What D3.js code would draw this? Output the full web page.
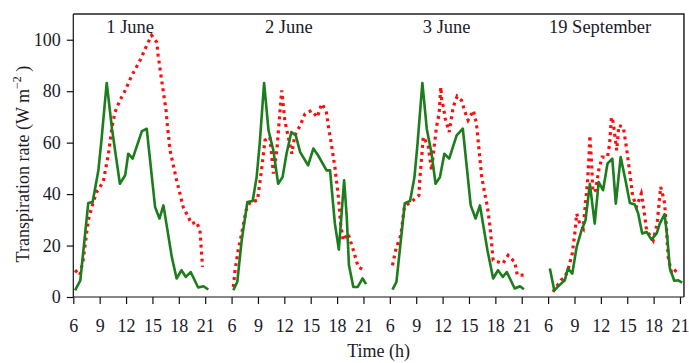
<!DOCTYPE html>
<html>
<head>
<meta charset="utf-8">
<script src="https://cdn.jsdelivr.net/npm/d3@7"></script>
<style>
  body { margin: 0; background: #fff; }
  svg { display: block; font-family: "Liberation Serif", "DejaVu Serif", serif; }
  .axis text { font-size: 18px; fill: #1a1a2a; font-family: "Liberation Serif", serif; }
  .axis path, .axis line { stroke: #111; stroke-width: 1.2; }
</style>
</head>
<body>
<svg id="chart" width="689" height="363"></svg>
<script>

// panels (days)
const days = ['1 June', '2 June', '3 June', '19 September'];
const xTickHours = [6, 9, 12, 15, 18, 21];
const yTicks = [0, 20, 40, 60, 80, 100];

// green solid line: [hour, transpiration rate]
const observed1 = [[6.2,2.6],[6.8,6.5],[7.7,36.5],[8.2,36.9],[8.85,49.2],[9.2,60.9],[9.8,83.2],[10.4,65.4],[10.75,57],
  [11.3,44],[11.9,47.3],[12.25,55.7],[12.75,53.8],[13.8,64.5],[14.35,65.4],[15.3,35],[15.8,30.5],[16.25,35.6],
  [17.2,15.6],[17.75,7.2],[18.3,10.4],[18.8,7.8],[19.35,9.7],[20.2,3.7],[20.8,4.2],[21.35,2.9]];
const observed2 = [[6.2,2.6],[6.65,5.9],[7.15,22],[7.8,36.9],[8.4,37.3],[8.85,46.6],[9.2,59.6],[9.7,83.2],[10.2,64.8],
  [10.75,57],[11.3,44],[11.8,46.6],[12.25,55.7],[12.8,64.1],[13.3,62.8],[13.8,56.3],[14.7,51.2],[15.3,57.7],
  [15.85,55],[16.8,49.2],[17.2,49.2],[17.75,28.5],[18.2,18.4],[18.8,45.4],[19.1,31.1],[19.35,12.3],[19.85,3.9],
  [20.35,3.9],[20.9,7.2],[21.3,5]];
const observed3 = [[6.3,2.9],[6.75,5.9],[7.25,22],[7.7,36.5],[8.3,37.3],[8.8,46.6],[9.15,59.6],[9.7,83.2],[10.2,65.4],
  [10.75,55.7],[11.2,44],[11.7,46.6],[12.2,55.7],[12.75,53.8],[13.6,62.8],[14.3,65.4],[15.2,35.6],[15.75,30.5],
  [16.25,35.6],[17.1,18.2],[17.75,7.2],[18.3,10.4],[18.85,7.8],[19.3,9.7],[20.2,3.3],[20.8,4.2],[21.25,3]];
const observed4 = [[6.2,11.1],[6.7,2.6],[7.3,4.6],[7.9,6.5],[8.25,11.1],[8.75,9.1],[9.25,19.5],[9.8,25.9],[10.25,29.8],
  [10.75,44],[11.3,28.5],[11.75,44.7],[12.25,41.5],[12.75,51.8],[13.3,53.8],[13.7,36.3],[14.25,54.4],[14.8,45.4],
  [15.3,36.5],[15.85,36],[16.25,32.4],[16.7,24.7],[17.2,25.3],[17.75,22.3],[18.35,24.7],[18.7,28.5],[19.25,32.2],
  [19.55,23.3],[19.85,11.1],[20.35,6.3],[20.8,6.5],[21.25,5.6]];

// red dotted line: [hour, transpiration rate]
const simulated1 = [[6.2,10.4],[6.75,8.5],[7.15,15],[7.7,29.8],[8.1,35],[8.65,40.8],[9.4,44.7],[10,55.7],[10.4,66],
  [10.75,71.9],[11.3,76.4],[11.9,80.3],[12.65,86.1],[13.6,92],[14.35,97.8],[14.9,101.7],[15.5,99],[15.65,93.9],
  [16.05,84.2],[16.55,72.5],[16.7,66.7],[17,57],[17.75,45.4],[18.5,35],[19.45,28.5],[20,29.2],[20.4,26],[20.7,11.7]];
const simulated2 = [[6.2,3.9],[6.4,10.4],[6.75,18.2],[7.15,24.7],[7.65,33.7],[8.1,36.9],[8.95,37.6],[9.4,49.2],
  [9.8,60.9],[10.35,62.2],[10.55,55.7],[10.75,48],[11.15,57],[11.45,69.9],[11.7,80.3],[12.05,68.7],[12.45,62.2],
  [12.85,55.7],[13.2,62.8],[13.8,66.7],[14.35,71.2],[15.1,72.5],[15.75,69.9],[16.25,75.1],[16.75,72.5],[17,66.7],
  [17.4,58.3],[17.75,50.5],[18.15,38.9],[18.4,28.5],[18.7,22],[19.25,24.7],[19.85,18.2],[20.4,11.7],[21.05,10.4]];
const simulated3 = [[6.3,12.3],[6.7,18.8],[7.25,24],[7.65,35],[8.3,36.9],[8.65,37.6],[9.3,39.5],[9.4,45.4],[9.65,55.7],
  [9.8,62.2],[10.35,59],[10.75,49.2],[10.95,55.7],[11.3,66],[11.6,71.2],[11.8,81.6],[11.9,76.4],[12.1,73.8],
  [12.3,69.3],[12.75,64.1],[13.2,73.8],[13.65,78],[14.15,76.4],[14.55,71.9],[14.9,68.7],[15.5,72.5],[15.85,67.4],
  [16.15,57],[16.45,46.6],[16.8,40.2],[17.1,35],[17.4,27.2],[17.75,14.3],[18.35,13.6],[18.85,13],[19.45,16.2],
  [20.2,13.6],[20.5,8.5],[21.25,8.5]];
const simulated4 = [[6.55,2],[7.45,6.5],[7.9,7.8],[8.25,10.4],[8.75,16.9],[9.1,26.6],[9.25,32.4],[9.6,28.5],[10,26.6],
  [10.15,33],[10.45,43.4],[10.65,54.4],[10.75,62.8],[10.95,51.8],[11.1,40.8],[11.4,41.5],[11.75,49.2],[12.15,54.4],
  [12.75,54.4],[13,59.6],[13.2,69.9],[13.4,68],[13.8,57],[14.05,66.7],[14.55,66],[14.9,58.3],[15.3,48],[15.6,39.5],
  [16.05,35],[16.6,40.2],[16.8,36.3],[17.2,25.9],[17.95,22],[18.4,28.5],[18.8,42.8],[19.1,38.9],[19.25,36.3],
  [19.45,27.2],[19.65,15.6],[20.05,9.1],[20.8,11.1]];

const observed = [observed1, observed2, observed3, observed4];
const simulated = [simulated1, simulated2, simulated3, simulated4];

function chart(svg) {

  // layout
  const left = 73.3, right = 680, top = 14, bottom = 297;
  const hoursPerPanel = 18;   // 6..21 plus one tick gap to the next day

  // continuous position: panel index * 18 + hours after 6 h
  const pos = (d, h) => d * hoursPerPanel + (h - 6);

  const x = d3.scaleLinear()
    .domain([0, pos(3, 21)])
    .range([left, right]);

  const y = d3.scaleLinear()
    .domain([0, 110])
    .range([bottom, top]);

  const xRight = x(pos(3, 21.45));

  // frame (top and right sides)
  svg.append('path')
    .attr('d', `M${left},${top} L${xRight},${top} L${xRight},${bottom}`)
    .attr('fill', 'none')
    .attr('stroke', '#222')
    .attr('stroke-width', 1.5);

  // x axis, repeated hours per panel
  const xTicks = [];
  days.forEach((_, d) => xTickHours.forEach(h => xTicks.push(pos(d, h))));

  const xAxis = d3.axisBottom(x)
    .tickValues(xTicks)
    .tickFormat(u => xTickHours[Math.round(u % hoursPerPanel) / 3])
    .tickSize(7)
    .tickPadding(15);

  svg.append('g')
    .attr('class', 'axis')
    .attr('transform', `translate(0,${bottom})`)
    .call(xAxis)
    .call(g => g.select('.domain').attr('d', `M${left},0 H${xRight}`));

  // y axis
  const yAxis = d3.axisLeft(y)
    .tickValues(yTicks)
    .tickSize(6.5)
    .tickPadding(6);

  svg.append('g')
    .attr('class', 'axis')
    .attr('transform', `translate(${left},0)`)
    .call(yAxis)
    .call(g => g.select('.domain').attr('d', `M0,${top} V${bottom}`));

  // lines
  days.forEach((name, d) => {
    const line = d3.line()
      .x(p => x(pos(d, p[0])))
      .y(p => y(p[1]));

    svg.append('path')
      .datum(simulated[d])
      .attr('d', line)
      .attr('fill', 'none')
      .attr('stroke', '#ff0d0d')
      .attr('stroke-width', 3.2)
      .attr('stroke-dasharray', '3,4');

    svg.append('path')
      .datum(observed[d])
      .attr('d', line)
      .attr('fill', 'none')
      .attr('stroke', '#1b7d1b')
      .attr('stroke-width', 2.6)
      .attr('stroke-linejoin', 'round');
  });

  // panel titles
  const titleOffset = [3.75, 3.8, 3.75, 0.1];
  svg.selectAll('.title').data(days)
    .join('text')
    .attr('class', 'title')
    .attr('x', (d, i) => x(pos(i, 6 + titleOffset[i])))
    .attr('y', 33)
    .attr('font-size', 18.5)
    .attr('fill', '#1a1a2a')
    .text(d => d);

  // axis titles
  svg.append('text')
    .attr('x', (left + xRight) / 2)
    .attr('y', 357)
    .attr('text-anchor', 'middle')
    .attr('font-size', 18)
    .attr('fill', '#1a1a2a')
    .text('Time (h)');

  const yLabel = svg.append('text')
    .attr('transform', 'translate(29,164) rotate(-90)')
    .attr('text-anchor', 'middle')
    .attr('font-size', 18)
    .attr('fill', '#1a1a2a');
  yLabel.append('tspan').text('Transpiration rate (W m');
  yLabel.append('tspan').attr('font-size', 12).attr('dy', -8).text('\u22122');
  yLabel.append('tspan').attr('dy', 8).text(' )');
}

chart(d3.select('#chart'));
</script>
</body>
</html>
